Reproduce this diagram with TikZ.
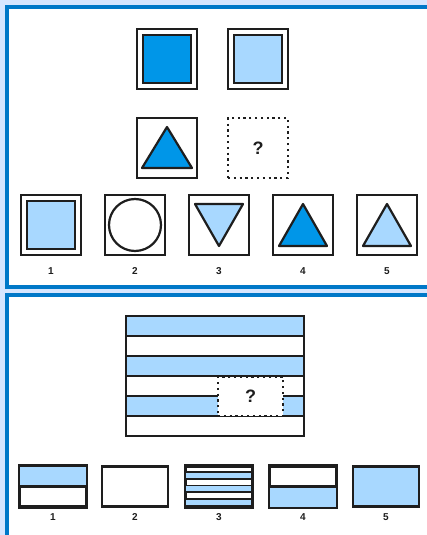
\documentclass[tikz,border=0pt]{standalone}
\usepackage{fontspec}
\setmainfont{Liberation Sans}
\usetikzlibrary{positioning}
\definecolor{pagebg}{RGB}{214,230,255}
\definecolor{frameblue}{RGB}{0,120,200}
\definecolor{deepblue}{RGB}{0,150,232}
\definecolor{paleblue}{RGB}{168,216,255}
\definecolor{ink}{RGB}{30,30,30}
\tikzstyle{panel} = [draw=frameblue, line width=3.5pt, fill=white]
\tikzstyle{tile} = [draw=ink, line width=2.4pt, fill=white, rectangle,
    minimum width=60pt, minimum height=60pt, inner sep=0pt]
\tikzstyle{core} = [draw=ink, line width=2.2pt, rectangle,
    minimum width=48pt, minimum height=48pt, inner sep=0pt]
\tikzstyle{gapbox} = [draw=ink, line width=2.2pt, dash pattern=on 2.2pt off 3.6pt,
    fill=white, rectangle, inner sep=0pt]
\tikzstyle{card} = [draw=ink, line width=2.2pt, fill=white, rectangle,
    minimum width=66pt, minimum height=40pt, inner sep=0pt]
\tikzstyle{num} = [inner sep=0pt, font=\fontsize{10}{12}\selectfont\bfseries, text=ink]
\tikzstyle{ask} = [font=\fontsize{18}{20}\selectfont\bfseries, text=ink]
\tikzstyle{figure} = [draw=ink, line width=2.2pt, line join=round]

\begin{document}
\begin{tikzpicture}[x=1pt, y=-1pt]
    \useasboundingbox (0,0) rectangle (427,535);
    \clip (0,0) rectangle (427,535);
    \fill[pagebg] (0,0) rectangle (427,535);
    % the two framed panels run off the right and bottom edges
    \draw[panel] (6.8,6.8) rectangle (445,286.8);
    \draw[panel] (6.8,295) rectangle (445,560);

    % upper puzzle: 2x2 matrix
    \node[tile] (q1) at (167,59) {};
    \node[core, fill=deepblue] at (q1) {};
    \node[tile] (q2) at (258,59) {};
    \node[core, fill=paleblue] at (q2) {};
    \node[tile] (q3) at (167,148) {};
    \draw[figure, fill=deepblue, shift={(q3)}] (0,-21) -- (25,20) -- (-25,20) -- cycle;
    \node[gapbox, minimum width=60pt, minimum height=60pt] (q4) at (258,148) {};
    \node[ask] at (q4) {?};

    % upper answers
    \node[tile] (c1) at (51,225) {};
    \node[core, fill=paleblue] at (c1) {};
    \node[tile] (c2) at (135,225) {};
    \draw[figure, shift={(c2)}] (0,0) circle (26);
    \node[tile] (c3) at (219,225) {};
    \draw[figure, fill=paleblue, shift={(c3)}] (-24,-21) -- (24,-21) -- (0,21) -- cycle;
    \node[tile] (c4) at (303,225) {};
    \draw[figure, fill=deepblue, shift={(c4)}] (0,-21) -- (24,21) -- (-24,21) -- cycle;
    \node[tile] (c5) at (387,225) {};
    \draw[figure, fill=paleblue, shift={(c5)}] (0,-21) -- (24,21) -- (-24,21) -- cycle;
    \foreach \i in {1,...,5}
        \node[num, below=11pt of c\i] {\i};

    % lower puzzle: striped panel with a missing piece
    \coordinate (gridtl) at (126,316);
    \coordinate (gridbr) at (304,436);
    \fill[paleblue] (126,316) rectangle (304,336);
    \fill[paleblue] (126,356) rectangle (304,376);
    \fill[paleblue] (126,396) rectangle (304,416);
    \foreach \y in {336,356,376,416}
        \draw[ink, line width=2.2pt] (126,\y) -- (304,\y);
    \draw[ink, line width=2.2pt] (126,396) -- (304,396);
    \node[gapbox, minimum width=65pt, minimum height=39pt] (gap) at (250.5,396.5) {};
    \node[ask] at (gap) {?};
    \draw[ink, line width=2.2pt] (gridtl) rectangle (gridbr);

    % lower answers
    \node[card] (d1) at (53,486.5) {};
    \fill[paleblue] (d1.north west) rectangle (d1.east);
    \draw[ink, line width=2.2pt] (d1.west) -- (d1.east);
    \node[card] (d2) at (135,486.5) {};
    \node[card] (d3) at (219,486.5) {};
    \foreach \k in {1,3,5}
        \fill[paleblue, shift={(d3.north west)}] (0,{\k*6.67}) rectangle (66,{(\k+1)*6.67});
    \foreach \k in {1,...,5}
        \draw[ink, line width=1.6pt, shift={(d3.north west)}] (0,{\k*6.67}) -- (66,{\k*6.67});
    \node[card] (d4) at (303,486.5) {};
    \fill[paleblue] (d4.west) rectangle (d4.south east);
    \draw[ink, line width=2.2pt] (d4.west) -- (d4.east);
    \node[card, fill=paleblue] (d5) at (386,486.5) {};
    \foreach \n in {d1,d3,d4}
        \draw[ink, line width=2.2pt] (\n.north west) rectangle (\n.south east);
    \foreach \i in {1,...,5}
        \node[num, below=6pt of d\i] {\i};
\end{tikzpicture}
\end{document}
